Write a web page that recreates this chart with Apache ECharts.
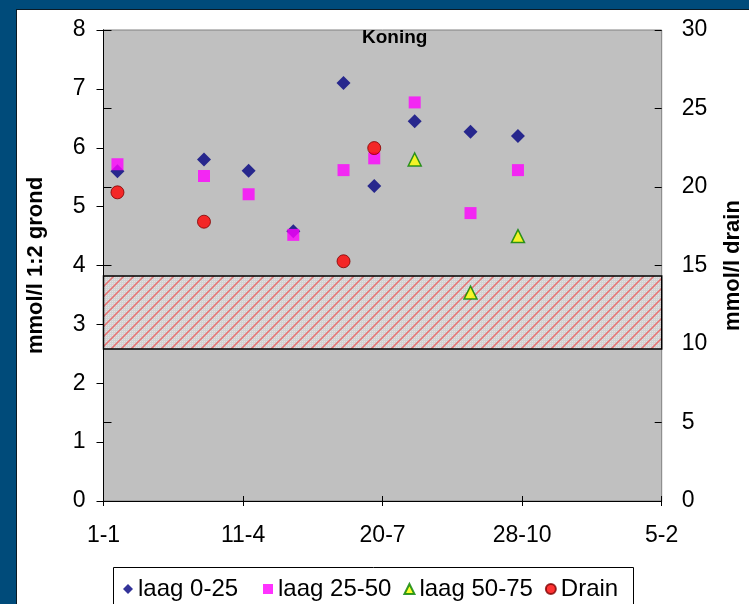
<!DOCTYPE html>
<html>
<head>
<meta charset="utf-8">
<script src="https://cdn.jsdelivr.net/npm/echarts@6/dist/echarts.min.js"></script>
<style>
  html, body { margin: 0; padding: 0; width: 749px; height: 604px; overflow: hidden; background: #004B7A; }
  #panel { position: absolute; left: 16px; top: 9px; width: 733px; height: 595px; background: #ffffff; border-top: 1px solid #0b1a24; border-left: 1px solid #0b1a24; box-sizing: border-box; }
  #chart { position: absolute; left: 0; top: 0; width: 749px; height: 604px; }
</style>
</head>
<body>
<div id="panel"></div>
<div id="chart"></div>
<script>
// ---- data ----
const chartTitle = 'Koning';
const xTickLabels = ['1-1', '11-4', '20-7', '28-10', '5-2'];
const yearStart = '2001-01-01';
const soilDates = ['2001-01-11', '2001-03-14', '2001-04-15', '2001-05-17', '2001-06-22', '2001-07-14', '2001-08-12', '2001-09-21', '2001-10-25'];
const laag0_25 = [5.6, 5.8, 5.61, 4.58, 7.1, 5.35, 6.45, 6.27, 6.2];
const laag25_50 = [5.72, 5.52, 5.21, 4.52, 5.62, 5.82, 6.77, 4.89, 5.62];
const laag50_75Dates = ['2001-08-12', '2001-09-21', '2001-10-25'];
const laag50_75 = [5.8, 3.54, 4.5];
const drainDates = ['2001-01-11', '2001-03-14', '2001-06-22', '2001-07-14'];
const drain = [19.66, 17.79, 15.27, 22.48];
const targetBand = [2.58, 3.82]; // mmol/l 1:2 grond
const seriesNames = ['laag 0-25', 'laag 25-50', 'laag 50-75', 'Drain'];

// ---- helpers ----
const DAY = 86400000;
function dayOf(d) { return Math.round((Date.parse(d) - Date.parse(yearStart)) / DAY); }
function pairs(dates, vals) { return dates.map((d, i) => [dayOf(d), vals[i]]); }

// hatch pattern for target band
const pc = document.createElement('canvas');
pc.width = 10; pc.height = 10;
const px = pc.getContext('2d');
px.fillStyle = '#d2d2d2';
px.fillRect(0, 0, 10, 10);
px.fillStyle = '#e2e2e2';
for (let i = 0; i < 10; i += 2) for (let j = 1; j < 10; j += 2) px.fillRect(i, j, 1, 1);
px.strokeStyle = 'rgba(238,75,75,0.72)';
px.lineWidth = 1.5;
px.beginPath();
px.moveTo(-1, 11); px.lineTo(11, -1);
px.moveTo(-1, 1); px.lineTo(1, -1);
px.moveTo(9, 11); px.lineTo(11, 9);
px.stroke();

const FONT = '"Liberation Sans", Arial, sans-serif';
const chart = echarts.init(document.getElementById('chart'), null, { renderer: 'canvas' });

const legendIcons = ['diamond', 'rect', 'triangle', 'circle'];
const legendBase = {
  top: 577, padding: 0, itemGap: 12, itemWidth: 10, itemHeight: 10,
  textStyle: { fontFamily: FONT, fontSize: 24, color: '#000' }
};
const option = {
  backgroundColor: 'transparent',
  animation: false,
  title: {
    text: chartTitle, left: 362, top: 28, padding: 0,
    textStyle: { fontFamily: FONT, fontSize: 19, fontWeight: 'bold', color: '#000' }
  },
  graphic: [{
    type: 'rect', shape: { x: 113.5, y: 567.5, width: 520, height: 60 },
    style: { fill: 'none', stroke: '#000', lineWidth: 1 }, silent: true
  }],
  grid: {
    left: 103.5, right: 87.3, top: 30, bottom: 103,
    outerBoundsMode: 'none', containLabel: false,
    show: true, backgroundColor: '#C0C0C0', borderColor: '#808080', borderWidth: 1
  },
  legend: [
    Object.assign({}, legendBase, {
      left: 123,
      data: [{ name: seriesNames[0], icon: legendIcons[0] }]
    }),
    Object.assign({}, legendBase, {
      left: 263,
      data: seriesNames.slice(1).map((n, i) => ({ name: n, icon: legendIcons[i + 1] }))
    })
  ],
  xAxis: [{
    type: 'value', min: 0, max: 400, interval: 100,
    splitLine: { show: false },
    axisLine: { lineStyle: { color: '#000', width: 1 } },
    axisTick: { show: true, length: 5, lineStyle: { color: '#000' } },
    axisLabel: { margin: 23, fontFamily: FONT, fontSize: 23, color: '#000',
      formatter: v => xTickLabels[Math.round(v / 100)] }
  }, {
    type: 'value', min: 0, max: 400, interval: 100, position: 'bottom',
    splitLine: { show: false }, axisLine: { show: false }, axisLabel: { show: false },
    axisTick: { show: true, inside: true, length: 5, lineStyle: { color: '#000' } }
  }],
  yAxis: [{
    type: 'value', min: 0, max: 8, interval: 1, position: 'left',
    name: 'mmol/l 1:2 grond', nameLocation: 'middle', nameGap: 57, nameRotate: 90,
    nameTextStyle: { fontFamily: FONT, fontSize: 22, fontWeight: 'bold', color: '#000' },
    splitLine: { show: false },
    axisLine: { show: true, lineStyle: { color: '#000', width: 1 } },
    axisTick: { show: true, length: 7, lineStyle: { color: '#000' } },
    axisLabel: { margin: 18, fontFamily: FONT, fontSize: 23, color: '#000' }
  }, {
    type: 'value', min: 0, max: 30, interval: 5, position: 'right',
    name: 'mmol/l drain', nameLocation: 'middle', nameGap: 60, nameRotate: 90,
    nameTextStyle: { fontFamily: FONT, fontSize: 22, fontWeight: 'bold', color: '#000' },
    splitLine: { show: false },
    axisLine: { show: true, lineStyle: { color: '#000', width: 1 } },
    axisTick: { show: true, length: 8, lineStyle: { color: '#000' } },
    axisLabel: { margin: 20, fontFamily: FONT, fontSize: 23, color: '#000' }
  }, {
    type: 'value', min: 0, max: 30, interval: 5, position: 'right',
    splitLine: { show: false }, axisLine: { show: false }, axisLabel: { show: false },
    axisTick: { show: true, inside: true, length: 7, lineStyle: { color: '#000' } }
  }],
  series: [{
    name: 'band', type: 'scatter', data: [], xAxisIndex: 0, yAxisIndex: 0,
    markArea: {
      silent: true,
      itemStyle: { color: { image: pc, repeat: 'repeat' }, borderColor: '#000', borderWidth: 1.5 },
      label: { show: false },
      data: [[{ xAxis: 0, yAxis: targetBand[0] }, { xAxis: 400, yAxis: targetBand[1] }]]
    }
  }, {
    name: seriesNames[0], type: 'scatter', xAxisIndex: 0, yAxisIndex: 0,
    symbol: 'diamond', symbolSize: 14,
    itemStyle: { color: '#000080' },
    data: pairs(soilDates, laag0_25)
  }, {
    name: seriesNames[1], type: 'scatter', xAxisIndex: 0, yAxisIndex: 0,
    symbol: 'rect', symbolSize: 12,
    itemStyle: { color: '#FF00FF' },
    data: pairs(soilDates, laag25_50)
  }, {
    name: seriesNames[2], type: 'scatter', xAxisIndex: 0, yAxisIndex: 0,
    symbol: 'triangle', symbolSize: 13,
    itemStyle: { color: '#FFFF00', borderColor: '#008000', borderWidth: 1.5 },
    data: pairs(laag50_75Dates, laag50_75)
  }, {
    name: seriesNames[3], type: 'scatter', xAxisIndex: 0, yAxisIndex: 1,
    symbol: 'circle', symbolSize: 13,
    itemStyle: { color: '#FF0000', borderColor: '#800000', borderWidth: 1 },
    data: pairs(drainDates, drain)
  }]
};
chart.setOption(option);
</script>
</body>
</html>
